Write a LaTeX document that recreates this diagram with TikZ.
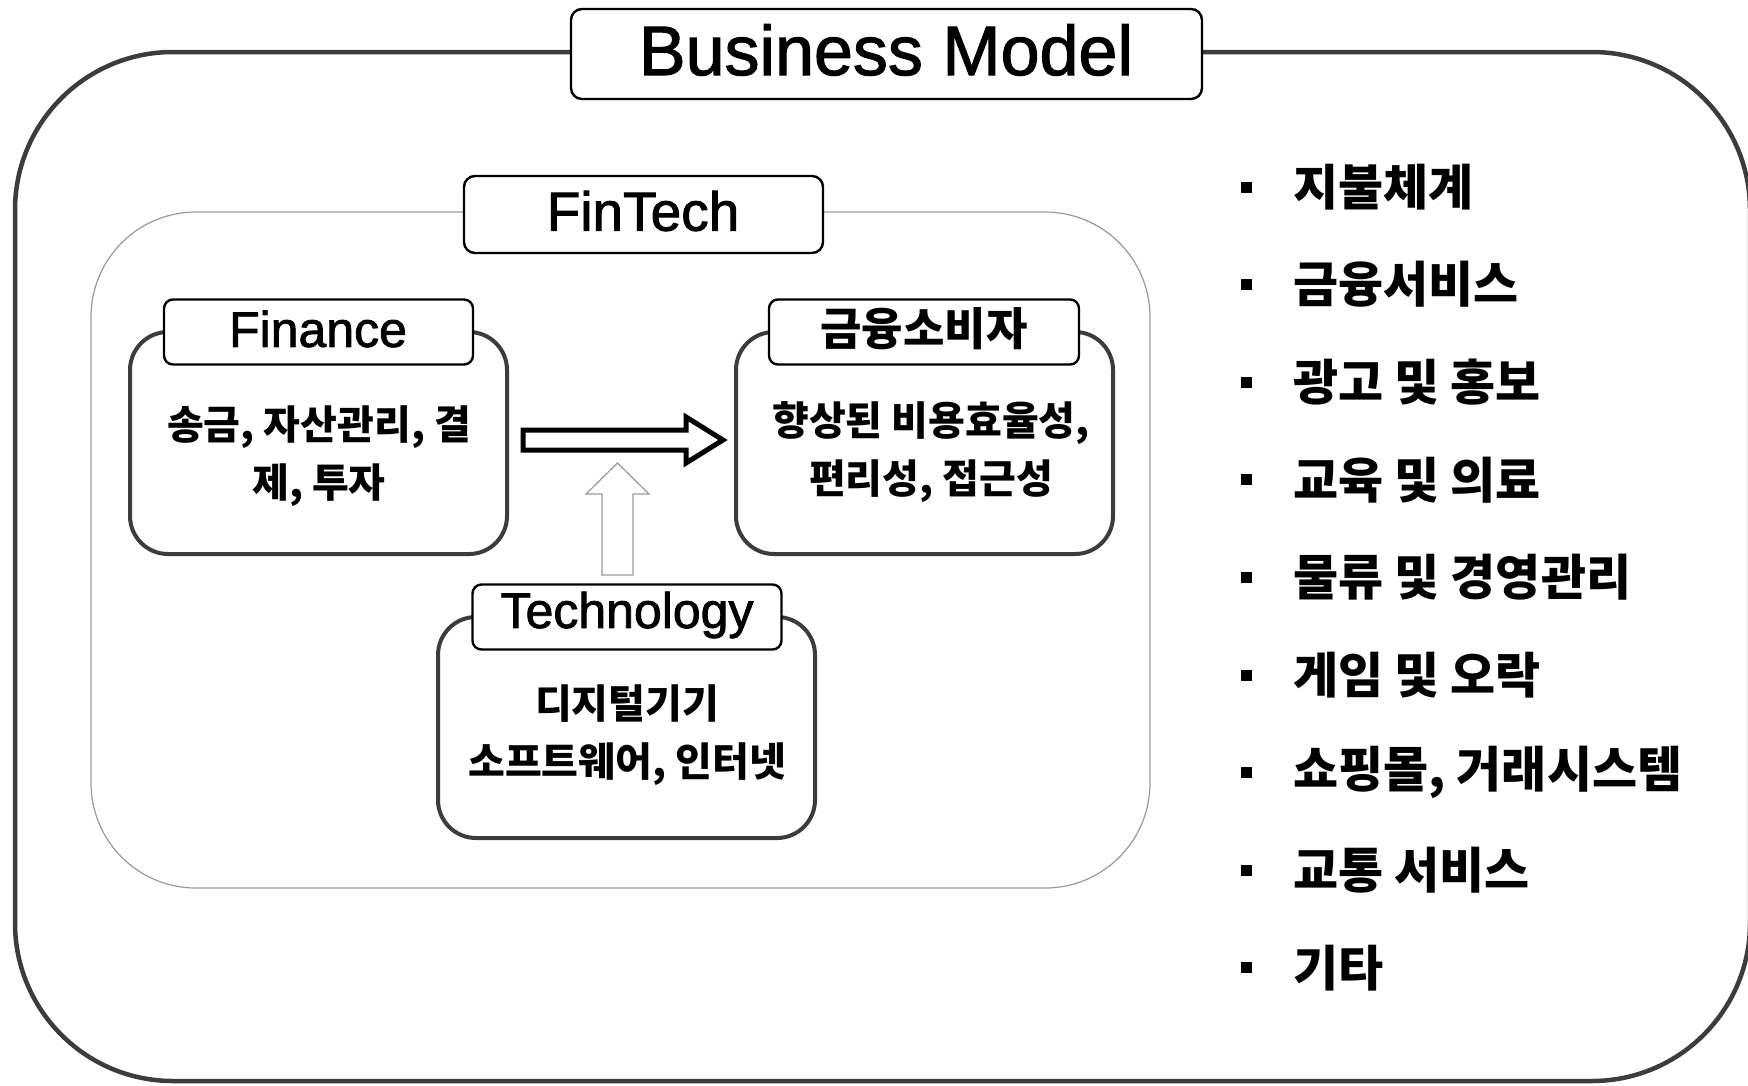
\documentclass[tikz,border=0pt]{standalone}
\usepackage{fontspec}
\setmainfont{Liberation Sans}[FakeBold=1.6]
\newfontfamily\kr{Noto Sans CJK KR}
\definecolor{edge}{HTML}{3C3C3C}
\definecolor{thin}{HTML}{9A9A9A}
\begin{document}
\begin{tikzpicture}[x=1pt,y=-1pt,
  outerbox/.style={draw=edge,line width=4.5pt,rounded corners=158pt,minimum width=1735pt,minimum height=1029pt,inner sep=0pt},
  areabox/.style={draw=thin,line width=1.2pt,rounded corners=105pt,inner sep=0pt},
  grpbox/.style={draw=edge,line width=4pt,rounded corners=38pt,minimum width=377pt,minimum height=222pt,inner sep=0pt},
  lblbox/.style={draw=black,line width=2.4pt,rounded corners=9pt,fill=white,inner sep=0pt,minimum width=309pt,minimum height=65pt},
  titlebox/.style={draw=black,line width=2.4pt,rounded corners=11pt,fill=white,inner sep=0pt},
  lbltxt/.style={inner sep=0pt,font=\fontsize{50}{50}\selectfont},
  bodytxt/.style={align=center,font=\kr\bfseries\fontsize{40}{58}\selectfont,inner sep=0pt},
  bul/.style={fill=black,inner sep=0pt,minimum size=11pt},
  itemtxt/.style={anchor=west,font=\kr\bfseries\fontsize{49}{49}\selectfont,inner sep=0pt},
]
\useasboundingbox (0,0) rectangle (1748,1085);
\fill[white] (0,0) rectangle (1748,1085);

% outer business model frame
\node[outerbox] (outer) at (882.5,566.5) {};
\node[titlebox,minimum width=631pt,minimum height=90pt] (bm) at (886.5,54) {};
\node[lbltxt,font=\fontsize{70}{70}\selectfont] (bmt) at (886,50) {Business Model};

% FinTech area
\node[areabox,minimum width=1059pt,minimum height=676pt] (area) at (620.5,550) {};
\node[titlebox,minimum width=359pt,minimum height=77pt] (ft) at (643.5,214.5) {};
\node[lbltxt,font=\fontsize{55}{55}\selectfont] (ftt) at (643,211) {FinTech};

% Finance group
\node[grpbox] (fin) at (318.5,443) {};
\node[lblbox] (finl) at (318.5,332) {};
\node[lbltxt] (finlt) at (318,329) {Finance};
\node[bodytxt] (fint) at (319,456) {송금, 자산관리, 결\\제, 투자};

% Consumer group
\node[grpbox] (con) at (924.5,443) {};
\node[lblbox,minimum width=310pt] (conl) at (924,332) {};
\node[lbltxt,font=\kr\bfseries\fontsize{45}{45}\selectfont] (conlt) at (924,329) {금융소비자};
\node[bodytxt] (cont) at (931,452) {향상된 비용효율성,\\편리성, 접근성};

% Technology group
\node[grpbox,minimum height=221pt] (tec) at (626.5,727.5) {};
\node[lblbox] (tecl) at (627,617) {};
\node[lbltxt] (teclt) at (627,615) {Technology};
\node[bodytxt] (tect) at (627,735) {디지털기기\\소프트웨어, 인터넷};

% block arrows
\draw[line width=5pt,line join=miter,fill=white] (523,430) -- (686,430) -- (686,417) -- (723,440) -- (686,463) -- (686,450) -- (523,450) -- cycle;
\draw[draw=thin,line width=1.2pt,fill=white] (602,575) -- (602,494) -- (586,494) -- (617.5,463) -- (649,494) -- (633,494) -- (633,575) -- cycle;

% list
\foreach \t [count=\i] in {지불체계,금융서비스,광고 및 홍보,교육 및 의료,물류 및 경영관리,게임 및 오락,{쇼핑몰, 거래시스템},교통 서비스,기타}{
  \pgfmathsetmacro{\yy}{187+(\i-1)*97.6}
  \node[bul] (b\i) at (1246,\yy) {};
  \node[itemtxt] (t\i) at (1293,\yy) {\t};
}
\end{tikzpicture}
\end{document}
